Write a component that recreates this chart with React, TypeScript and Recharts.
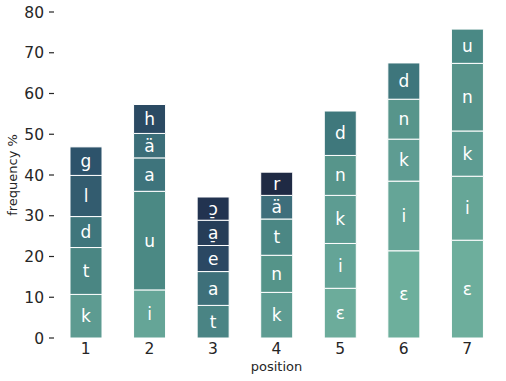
import { BarChart, Bar, XAxis, YAxis, Cell, LabelList, Label } from 'recharts';

const positions = ['1', '2', '3', '4', '5', '6', '7'];

// segment letters, bottom (level 0) to top (level 4)
const letters0 = ['k', 'i', 't', 'k', 'ɛ', 'ɛ', 'ɛ'];
const letters1 = ['t', 'u', 'a', 'n', 'i', 'i', 'i'];
const letters2 = ['d', 'a', 'e', 't', 'k', 'k', 'k'];
const letters3 = ['l', 'ä', 'a̠', 'ä', 'n', 'n', 'n'];
const letters4 = ['g', 'h', 'ɔ̠', 'r', 'd', 'd', 'u'];

// frequency % of each segment
const freq0 = [10.7, 11.8, 8.0, 11.2, 12.2, 21.4, 24.0];
const freq1 = [11.5, 24.2, 8.3, 9.1, 11.0, 17.1, 15.7];
const freq2 = [7.6, 8.2, 6.4, 8.9, 11.8, 10.3, 11.1];
const freq3 = [10.1, 6.0, 6.2, 5.8, 9.8, 9.8, 16.6];
const freq4 = [7.0, 7.1, 5.7, 5.7, 10.9, 8.9, 8.4];

const yTicks = [0, 10, 20, 30, 40, 50, 60, 70, 80];

const colors0 = ['#5d9b91', '#65a597', '#4a8484', '#5e9c92', '#6cac9b', '#6daf9c', '#6dae9c'];
const colors1 = ['#4a8683', '#4b8984', '#3e707a', '#559489', '#64a497', '#65a597', '#66a697'];
const colors2 = ['#3f767c', '#3e747c', '#2b4863', '#4b8784', '#5d9c92', '#5e9c92', '#5d9c92'];
const colors3 = ['#335c6f', '#3b6e79', '#263d58', '#3e6e7b', '#57958b', '#57958b', '#57948b'];
const colors4 = ['#2d536b', '#2b4a63', '#223350', '#1f2a44', '#3f787c', '#3e767c', '#4a8985'];

const levels = [
  { freq: freq0, letters: letters0, colors: colors0 },
  { freq: freq1, letters: letters1, colors: colors1 },
  { freq: freq2, letters: letters2, colors: colors2 },
  { freq: freq3, letters: letters3, colors: colors3 },
  { freq: freq4, letters: letters4, colors: colors4 },
];

const data = positions.map((pos, i) => {
  const row: Record<string, string | number> = { pos };
  levels.forEach((lv, j) => {
    row[`v${j}`] = lv.freq[i];
    row[`l${j}`] = lv.letters[i];
  });
  return row;
});

const font = 'DejaVu Sans, sans-serif';
const textColor = '#262626';

export default function App() {
  return (
    <div style={{ position: 'absolute', left: 0, top: 0, background: '#fff', fontFamily: font }}>
      <BarChart
        width={506}
        height={381}
        data={data}
        margin={{ top: 12, right: 7, left: 0, bottom: 0 }}
        barSize={32}
      >
        <XAxis
          dataKey="pos"
          axisLine={false}
          tickLine={false}
          tickSize={0}
          tickMargin={5}
          height={43}
          tick={{ fill: textColor, fontSize: 15.5, fontFamily: font }}
        >
          <Label
            value="position"
            position="insideBottom"
            offset={10}
            style={{ fill: textColor, fontSize: 13, fontFamily: font }}
          />
        </XAxis>
        <YAxis
          type="number"
          domain={[0, 80]}
          ticks={yTicks}
          width={54}
          axisLine={false}
          tickLine={{ stroke: textColor, strokeWidth: 1.2 }}
          tickSize={5}
          tickMargin={5}
          tick={{ fill: textColor, fontSize: 15.5, fontFamily: font }}
        >
          <Label
            value="frequency %"
            angle={-90}
            position="insideLeft"
            offset={12}
            style={{ fill: textColor, fontSize: 13, fontFamily: font, textAnchor: 'middle' }}
          />
        </YAxis>
        {levels.map((lv, j) => (
          <Bar
            key={j}
            dataKey={`v${j}`}
            stackId="a"
            stroke="#ffffff"
            strokeWidth={1}
            isAnimationActive={false}
          >
            {positions.map((p, i) => (
              <Cell key={p} fill={lv.colors[i]} />
            ))}
            <LabelList
              dataKey={`l${j}`}
              position="center"
              fill="#ffffff"
              fontSize={17}
              fontFamily={font}
            />
          </Bar>
        ))}
      </BarChart>
    </div>
  );
}
